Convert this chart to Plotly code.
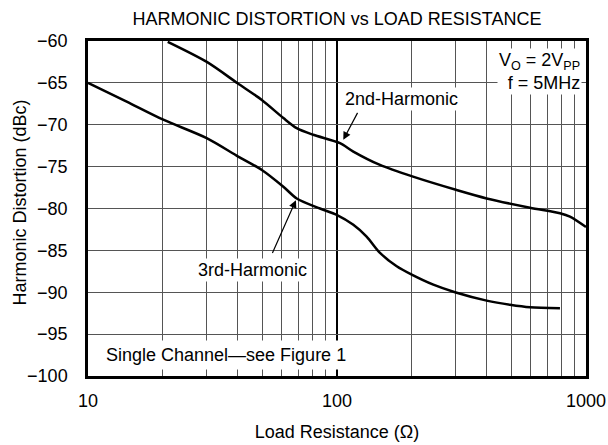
import plotly.graph_objects as go
import math

# Data
r_2nd = [20.9, 30, 39.9, 49.9, 60.9, 68.9, 80.3, 102.8, 116.3, 148.8, 202, 302.5, 399, 595.6, 786, 862, 1000]
hd_2nd = [-60.1, -62.5, -65.05, -67.04, -69.2, -70.4, -71.2, -72.2, -73.2, -74.8, -76.2, -77.8, -78.8, -79.9, -80.56, -80.96, -82.2]

r_3rd = [10, 14.3, 20.06, 29.97, 40.1, 49.9, 60.9, 68.9, 85.4, 99.7, 116.3, 131.5, 148.8, 173.7, 199.6, 243.7, 297.8, 399, 495, 596, 786]
hd_3rd = [-65.0, -67.24, -69.4, -71.6, -73.8, -75.4, -77.4, -78.8, -80.0, -80.75, -81.95, -83.35, -85.3, -86.9, -87.9, -89.1, -90.0, -91.0, -91.5, -91.8, -91.9]

x_major = [10, 100, 1000]
x_major_text = ["10", "100", "1000"]
x_minor = [20, 30, 40, 50, 60, 70, 80, 90, 200, 300, 400, 500, 600, 700, 800, 900]
y_ticks = [-60, -65, -70, -75, -80, -85, -90, -95, -100]
y_tick_text = ["\u221260", "\u221265", "\u221270", "\u221275", "\u221280", "\u221285", "\u221290", "\u221295", "\u2212100"]

FONT = "Liberation Sans, Arial, Helvetica, sans-serif"
FS = 18

# plot area in pixels (for placing paper-referenced labels)
PL, PR, PT, PB = 88, 586, 41, 376


def px_x(p):
    return (p - PL) / (PR - PL)


def px_y(p):
    return 1 - (p - PT) / (PB - PT)


fig = go.Figure()
for xs, ys in [(r_2nd, hd_2nd), (r_3rd, hd_3rd)]:
    fig.add_trace(go.Scatter(x=xs, y=ys, mode="lines",
                             line=dict(color="black", width=2.5, shape="spline", smoothing=0.8),
                             showlegend=False, hoverinfo="skip"))

fig.update_layout(
    width=608, height=445,
    margin=dict(l=PL, r=608 - PR, t=PT, b=445 - PB, autoexpand=False),
    paper_bgcolor="white", plot_bgcolor="white",
    font=dict(family=FONT, size=FS, color="black"),
    title=dict(text="HARMONIC DISTORTION vs LOAD RESISTANCE", x=(PL + PR) / 2 / 608, xanchor="center",
               y=1 - 18.5 / 445, yanchor="middle", font=dict(size=FS), automargin=False),
    showlegend=False,
)

fig.update_xaxes(
    type="log", range=[1, 3], automargin=False,
    tickmode="array", tickvals=x_major, ticktext=x_major_text,
    showgrid=True, gridcolor="black", gridwidth=2,
    minor=dict(tickmode="array", tickvals=x_minor, showgrid=True, gridcolor="#555555", gridwidth=1),
    showline=True, linecolor="black", linewidth=2.5, mirror=True,
    ticks="", ticklabelstandoff=7,
    title=dict(text="Load Resistance (\u03a9)", standoff=16, font=dict(size=FS)),
    zeroline=False,
)
fig.update_yaxes(
    range=[-100, -60], automargin=False,
    tickmode="array", tickvals=y_ticks, ticktext=y_tick_text,
    showgrid=True, gridcolor="#555555", gridwidth=1,
    showline=True, linecolor="black", linewidth=2.5, mirror=True,
    ticks="", ticklabelstandoff=14,
    zeroline=False,
)

# y-axis title as rotated annotation
fig.add_annotation(x=px_x(19.5), y=px_y(203), xref="paper", yref="paper", xanchor="center", yanchor="middle",
                   text="Harmonic Distortion (dBc)", textangle=-90, showarrow=False, font=dict(size=FS))

L = math.log10
# Text labels with white background
fig.add_annotation(x=L(182), y=-66.96, xref="x", yref="y", text="2nd-Harmonic", showarrow=False,
                   bgcolor="white", borderpad=1, font=dict(size=FS))
fig.add_annotation(x=L(45.9), y=-87.4, xref="x", yref="y", text="3rd-Harmonic", showarrow=False,
                   bgcolor="white", borderpad=1, font=dict(size=FS))
fig.add_annotation(x=px_x(101), y=px_y(355), xref="paper", yref="paper", xanchor="left", yanchor="middle",
                   text="Single Channel\u2014see Figure 1", showarrow=False,
                   bgcolor="white", borderpad=4, font=dict(size=FS))
fig.add_annotation(x=px_x(582), y=px_y(71.5), xref="paper", yref="paper", xanchor="right", yanchor="middle",
                   align="right", text="V<sub>O</sub> = 2V<sub>PP</sub><br>f = 5MHz", showarrow=False,
                   bgcolor="white", borderpad=1, font=dict(size=FS))

# Arrows
fig.add_annotation(x=L(106), y=-71.8, ax=L(121.8), ay=-68.4, xref="x", yref="y", axref="x", ayref="y",
                   text="", showarrow=True, arrowhead=2, arrowsize=1.3, arrowwidth=1.2, arrowcolor="black")
fig.add_annotation(x=L(68.4), y=-79.0, ax=L(54.7), ay=-85.5, xref="x", yref="y", axref="x", ayref="y",
                   text="", showarrow=True, arrowhead=2, arrowsize=1.3, arrowwidth=1.2, arrowcolor="black")

fig.write_html("out.html", config={"displayModeBar": False},
               post_script="document.body.style.margin='0';document.body.style.overflow='hidden';")
